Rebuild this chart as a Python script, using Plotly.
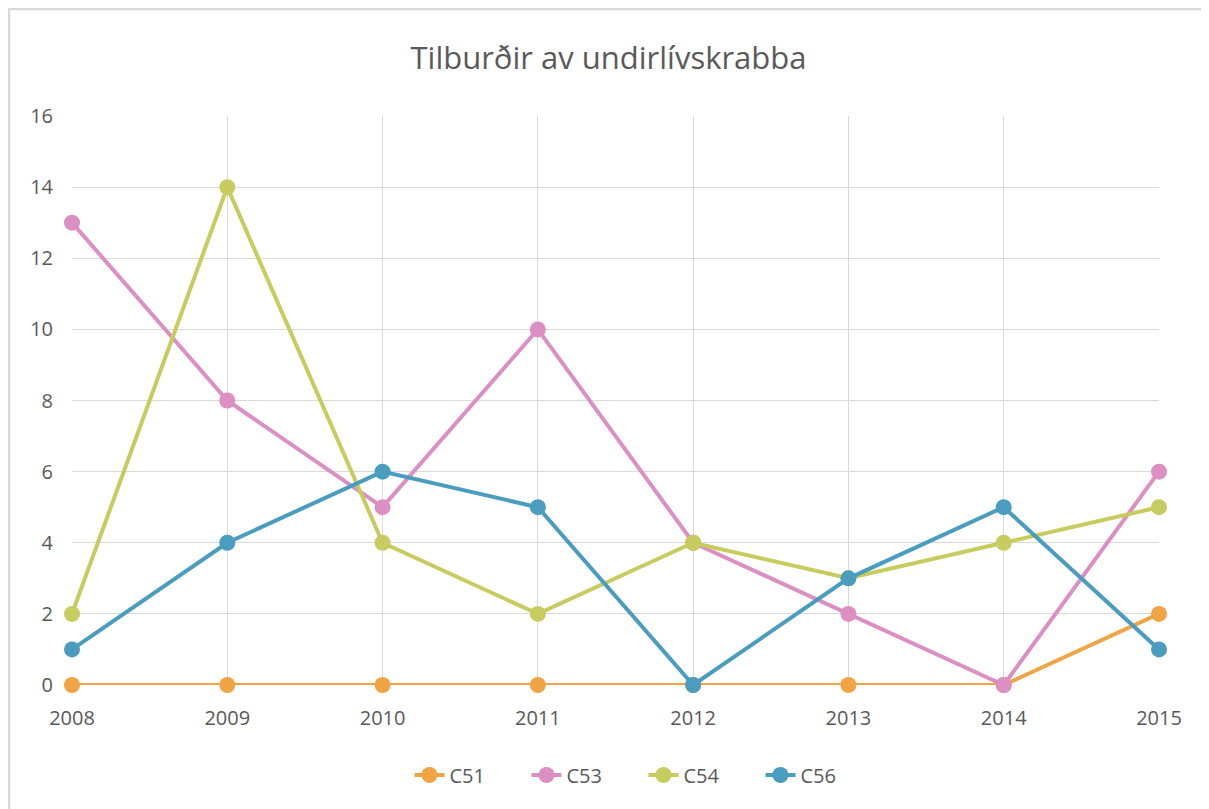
import plotly.graph_objects as go

years = [2008, 2009, 2010, 2011, 2012, 2013, 2014, 2015]
c51 = [0, 0, 0, 0, 0, 0, 0, 2]
c53 = [13, 8, 5, 10, 4, 2, 0, 6]
c54 = [2, 14, 4, 2, 4, 3, 4, 5]
c56 = [1, 4, 6, 5, 0, 3, 5, 1]
series_names = ["C51", "C53", "C54", "C56"]
series_values = [c51, c53, c54, c56]
colors = ["#F0A443", "#DC8FC2", "#C8CB5E", "#4A9DBE"]
y_ticks = [0, 2, 4, 6, 8, 10, 12, 14, 16]

# page body has an 8px margin, so the figure origin sits at page (8, 8)
OFF = 8
W, H = 1209 - OFF, 809 - OFF
L, R, T, B = 72 - OFF, 1159 - OFF, 116 - OFF, 685 - OFF

fig = go.Figure()
for name, vals, col in zip(series_names, series_values, colors):
    fig.add_trace(go.Scatter(
        x=years, y=vals, name=name, mode="lines+markers",
        line=dict(color=col, width=4),
        marker=dict(color=col, size=16),
        cliponaxis=False,
    ))

font_fam = "Open Sans, Noto Sans, sans-serif"
grid = "#D9D9D9"
txt = "#595959"

def px_x(p):
    return (p - OFF - L) / (R - L)

def px_y(p):
    return (B - (p - OFF)) / (B - T)

fig.update_layout(
    width=W, height=H,
    margin=dict(l=L, r=W - R, t=T, b=H - B),
    paper_bgcolor="white", plot_bgcolor="white",
    title=dict(text="Tilburðir av undirlívskrabba", x=0.5, xanchor="center",
               y=1 - (58 - OFF) / H, yanchor="middle",
               font=dict(family=font_fam, size=31, color=txt)),
    showlegend=True,
    legend=dict(orientation="h", x=0.5 + 28 / (R - L), xanchor="center", y=px_y(775),
                yanchor="middle",
                font=dict(family=font_fam, size=20, color=txt),
                entrywidth=72, entrywidthmode="pixels", bgcolor="rgba(0,0,0,0)"),
    xaxis=dict(range=[2008, 2015], tickvals=years, ticktext=[str(y) for y in years],
               showgrid=True, gridcolor=grid, gridwidth=1, zeroline=False,
               showline=False, ticks="", ticklabelstandoff=19,
               tickfont=dict(family=font_fam, size=20, color=txt)),
    yaxis=dict(range=[0, 16], tickvals=y_ticks, showgrid=True, gridcolor=grid, gridwidth=1,
               zeroline=False, showline=False, ticks="", ticklabelstandoff=18,
               tickfont=dict(family=font_fam, size=20, color=txt)),
    shapes=[
        dict(type="line", xref="paper", yref="paper", x0=px_x(8), x1=px_x(1215),
             y0=px_y(9), y1=px_y(9), line=dict(color="#D9D9D9", width=2.5)),
        dict(type="line", xref="paper", yref="paper", x0=px_x(9), x1=px_x(9),
             y0=px_y(9), y1=px_y(815), line=dict(color="#D9D9D9", width=2.5)),
    ],
)

fig.write_html("out.html")
